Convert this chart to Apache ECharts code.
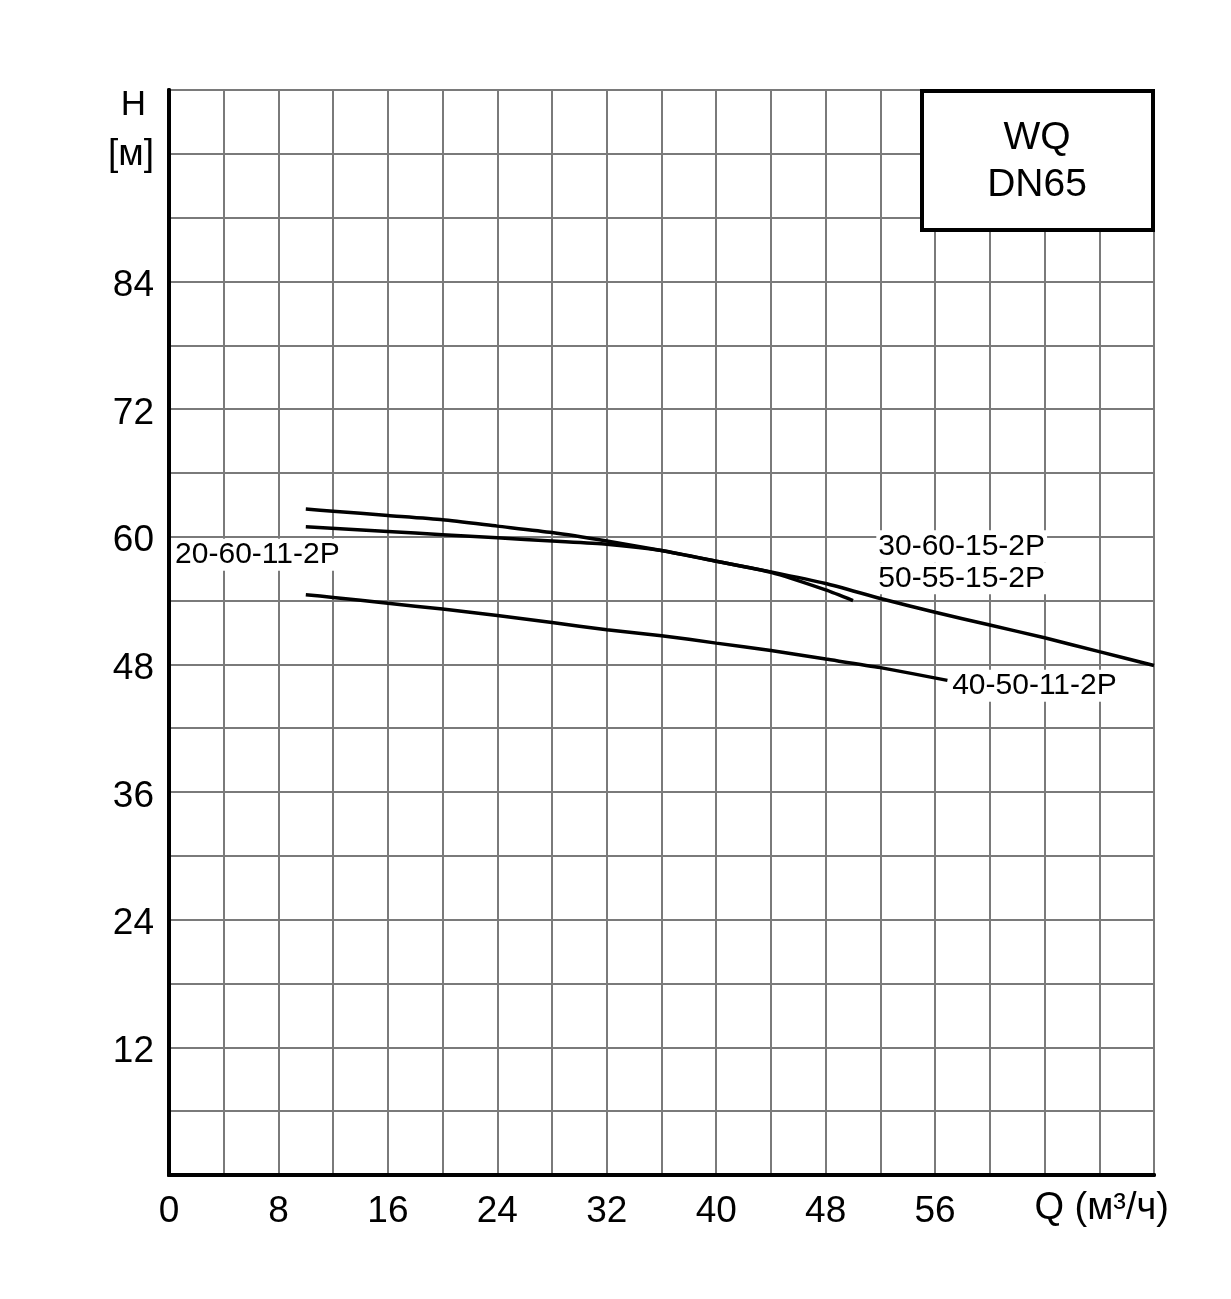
<!DOCTYPE html>
<html>
<head>
<meta charset="utf-8">
<script src="https://cdn.jsdelivr.net/npm/echarts@6/dist/echarts.min.js"></script>
<style>
  html, body { margin: 0; background: #fff; }
  #chart { width: 1231px; height: 1299px; }
</style>
</head>
<body>
<div id="chart"></div>
<script>
// Q, м³/ч  /  H, м
const flowA = [10, 12, 16, 20, 24, 28, 32, 36, 40, 44, 48, 52, 56, 60, 64, 68, 72];
const headA = [62.6, 62.4, 62.0, 61.6, 61.0, 60.4, 59.6, 58.7, 57.7, 56.7, 55.6, 54.2, 52.9, 51.7, 50.5, 49.2, 47.9];
const flowB = [10, 16, 20, 24, 28, 32, 36, 40, 44, 48, 50];
const headB = [60.95, 60.5, 60.2, 59.9, 59.6, 59.3, 58.7, 57.7, 56.65, 55.0, 54.0];
const flowC = [10, 12, 16, 20, 24, 28, 32, 36, 40, 44, 48, 52, 56.9];
const headC = [54.55, 54.3, 53.75, 53.2, 52.6, 51.95, 51.25, 50.7, 50.0, 49.3, 48.5, 47.7, 46.5];

const curveNames = ['30-60-15-2P', '50-55-15-2P', '20-60-11-2P', '40-50-11-2P'];
const curveNameAt = [[51.7, 59.1], [51.7, 56.1], [0.3, 58.3], [57.1, 46.0]];

const titleLines = ['WQ', 'DN65'];
const font = 'Liberation Sans';

const zip = (xs, ys) => xs.map((x, i) => [x, ys[i]]);

const curve = data => ({
  type: 'line',
  data: data,
  smooth: 0.2,
  showSymbol: false,
  silent: true,
  lineStyle: { color: '#000', width: 3.5 },
  z: 3,
});

const chart = echarts.init(document.getElementById('chart'));
chart.setOption({
  animation: false,
  backgroundColor: '#fff',
  grid: { left: 169, right: 77, top: 90, bottom: 124 },
  xAxis: [
    {
      type: 'value', min: 0, max: 72, interval: 4,
      name: 'Q (м³/ч)', nameLocation: 'end', nameGap: 15,
      nameTextStyle: { fontFamily: font, fontSize: 38, color: '#000', align: 'right', verticalAlign: 'top', padding: [15, 0, 0, 0] },
      axisLine: { lineStyle: { color: '#000', width: 4 } },
      axisTick: { show: false },
      axisLabel: {
        margin: 18, fontFamily: font, fontSize: 37, color: '#000',
        formatter: v => (v % 8 === 0 && v <= 56 ? String(v) : ''),
      },
      splitLine: { lineStyle: { color: '#7a7a7a', width: 2 } },
    },
    {
      type: 'value', position: 'top', min: 0, max: 72,
      axisLine: { show: true, lineStyle: { color: '#000', width: 4 } },
      axisTick: { show: false }, axisLabel: { show: false }, splitLine: { show: false },
    },
  ],
  yAxis: [
    {
      type: 'value', min: 0, max: 102, interval: 6,
      name: 'H', nameLocation: 'end', nameGap: -15,
      nameTextStyle: { fontFamily: font, fontSize: 35, color: '#000', align: 'right', verticalAlign: 'middle', padding: [0, 23, 0, 0] },
      axisLine: { lineStyle: { color: '#000', width: 4 } },
      axisTick: { show: false },
      axisLabel: {
        margin: 15, fontFamily: font, fontSize: 37, color: '#000', padding: [9, 0, 0, 0],
        formatter: v => (v === 96 ? '{u|[м]}' : (v % 12 === 0 && v > 0 && v <= 84 ? String(v) : '')),
        rich: { u: { fontFamily: font, fontSize: 37, color: '#000', padding: [0, 0, 8, 0] } },
      },
      splitLine: { lineStyle: { color: '#7a7a7a', width: 2 } },
    },
    {
      type: 'value', position: 'right', min: 0, max: 102,
      axisLine: { show: true, lineStyle: { color: '#000', width: 4 } },
      axisTick: { show: false }, axisLabel: { show: false }, splitLine: { show: false },
    },
  ],
  series: [
    curve(zip(flowA, headA)),
    curve(zip(flowB, headB)),
    curve(zip(flowC, headC)),
    {
      type: 'scatter',
      silent: true,
      symbolSize: 0,
      z: 4,
      data: curveNames.map((n, i) => ({ name: n, value: curveNameAt[i] })),
      label: {
        show: true, position: 'right', distance: 0,
        formatter: '{b}',
        fontFamily: font, fontSize: 30, color: '#000',
        textBorderWidth: 0, opacity: 1,
        backgroundColor: '#fff', padding: [1, 2],
      },
    },
  ],
  graphic: [
    {
      type: 'rect', z: 100,
      shape: { x: 922, y: 91, width: 231, height: 139 },
      style: { fill: '#fff', stroke: '#000', lineWidth: 4 },
    },
    {
      type: 'text', x: 1037, y: 138, z: 101,
      style: { text: titleLines[0], fontFamily: font, fontSize: 39, fill: '#000', textAlign: 'center', textVerticalAlign: 'middle' },
    },
    {
      type: 'text', x: 1037, y: 185, z: 101,
      style: { text: titleLines[1], fontFamily: font, fontSize: 39, fill: '#000', textAlign: 'center', textVerticalAlign: 'middle' },
    },
  ],
});
</script>
</body>
</html>
